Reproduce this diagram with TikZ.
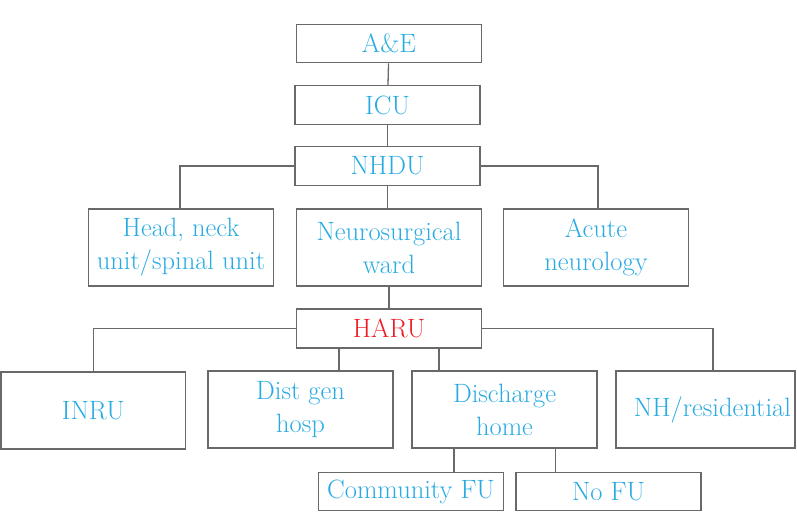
\documentclass[tikz,border=0pt]{standalone}
\definecolor{txtblue}{RGB}{41,171,226}
\definecolor{txtred}{RGB}{237,28,36}
\definecolor{edge}{RGB}{105,105,105}
\begin{document}
\begin{tikzpicture}[x=1pt,y=-1pt,
  box/.style={draw=edge,line width=1.3pt,rectangle,minimum width=185pt,minimum height=38.5pt,
    inner sep=2pt,text=txtblue,font=\fontsize{26.5}{33}\selectfont,align=center},
  tall/.style={box,minimum height=77pt},
  link/.style={draw=edge,line width=1.3pt}]
\useasboundingbox (0,0) rectangle (797,512);
\node[box] (ae) at (389,43.5) {A\&E};
\node[box] (icu) at (387.5,105) {ICU};
\node[box] (nhdu) at (387.5,166) {NHDU};
\node[tall] (head) at (181,247.5) {Head, neck\\unit/spinal unit};
\node[tall] (neuro) at (389,247.5) {Neurosurgical\\ward};
\node[tall] (acute) at (596,247.5) {Acute\\neurology};
\node[box,text=txtred,minimum height=39pt] (haru) at (389,328.5) {HARU};
\node[tall,minimum width=184.5pt] (inru) at (93.25,410.5) {INRU};
\node[tall] (dist) at (300.5,409.5) {Dist gen\\hosp};
\node[tall] (dis) at (504.5,409.5) {Discharge\\home};
\node[tall,minimum width=179pt,text width=171pt,align=right,inner xsep=4pt] (nh) at (705.5,409.5) {NH/residential};
\node[box] (cfu) at (411,491.5) {Community FU};
\node[box] (nofu) at (608.5,491.5) {No FU};
\draw[link] (ae) -- (icu);
\draw[link] (icu) -- (nhdu);
\draw[link] (nhdu.west) -| ([xshift=-1pt]head.north);
\draw[link] (nhdu.east) -| ([xshift=2pt]acute.north);
\draw[link] (nhdu.south) -- (nhdu.south |- neuro.north);
\draw[link] (neuro.south) -- (neuro.south |- haru.north);
\draw[link] (haru.west) -| (inru.north);
\draw[link] (haru.east) -| ([xshift=7.5pt]nh.north);
\draw[link] ([xshift=-50pt]haru.south) -- ([xshift=-50pt]haru.south |- dist.north);
\draw[link] ([xshift=50pt]haru.south) -- ([xshift=50pt]haru.south |- dis.north);
\draw[link] ([xshift=-50.5pt]dis.south) -- ([xshift=-50.5pt]dis.south |- cfu.north);
\draw[link] ([xshift=51pt]dis.south) -- ([xshift=51pt]dis.south |- nofu.north);
\end{tikzpicture}
\end{document}
